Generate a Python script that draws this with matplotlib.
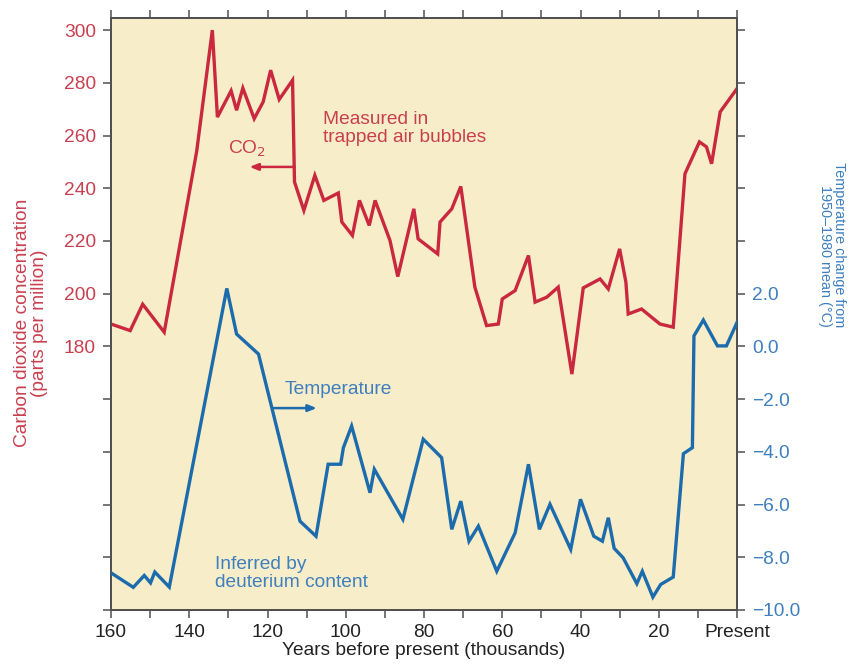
import matplotlib
matplotlib.use("Agg")
import matplotlib.pyplot as plt
from matplotlib.ticker import FixedLocator, FixedFormatter

plt.rcParams['font.family'] = ['Liberation Sans', 'DejaVu Sans']

# CO2 record from trapped air bubbles (age in thousands of years, ppm)
co2_age = [160.0, 155.1, 151.9, 146.4, 138.1, 134.1, 132.8, 129.3, 127.9, 126.3,
           123.4, 121.1, 119.2, 117.0, 113.6, 113.1, 110.7, 107.9, 105.6, 101.9,
           101.0, 98.3, 96.5, 94.0, 92.5, 88.7, 86.7, 82.6, 81.5, 76.5,
           75.9, 72.9, 70.6, 67.0, 64.0, 61.0, 60.0, 56.7, 53.3, 51.6,
           48.6, 45.7, 42.2, 39.3, 35.0, 32.9, 30.0, 28.4, 27.8, 24.4,
           19.7, 16.3, 13.3, 9.6, 7.8, 6.5, 4.3, 0.0]
co2_ppm = [188.5, 186.0, 196.0, 185.4, 254.0, 300.0, 267.0, 277.0, 269.6, 278.0,
           266.4, 272.8, 284.8, 273.7, 281.0, 242.4, 231.6, 244.9, 235.4, 238.2,
           227.2, 222.1, 235.4, 225.9, 235.4, 220.2, 206.5, 232.2, 220.8, 215.1,
           227.2, 232.2, 240.7, 202.5, 187.9, 188.5, 198.0, 201.2, 214.5, 196.8,
           198.7, 202.5, 169.5, 202.2, 205.6, 201.8, 217.0, 204.4, 192.3, 194.2,
           188.5, 187.3, 245.5, 257.6, 255.7, 249.3, 269.0, 277.8]

# Temperature inferred from deuterium content (deg C relative to 1950-1980 mean)
temp_age = [160.0, 154.3, 151.5, 149.9, 148.8, 145.1, 130.4, 127.9, 122.3, 111.7,
            107.6, 104.5, 101.3, 100.6, 98.5, 93.8, 92.7, 85.4, 80.2, 75.5,
            72.9, 70.6, 68.5, 66.1, 61.4, 56.7, 53.3, 50.5, 47.8, 42.5,
            40.0, 36.6, 34.4, 32.9, 31.4, 29.1, 25.6, 24.2, 21.5, 19.5,
            16.3, 13.7, 11.4, 11.0, 8.6, 5.0, 2.7, 0.0]
temp_c = [-8.59, -9.14, -8.69, -8.97, -8.56, -9.13, 2.2, 0.47, -0.29, -6.63,
          -7.2, -4.47, -4.47, -3.84, -3.02, -5.55, -4.66, -6.56, -3.52, -4.22,
          -6.94, -5.87, -7.39, -6.82, -8.53, -7.07, -4.47, -6.94, -5.99, -7.70,
          -5.80, -7.2, -7.39, -6.5, -7.66, -8.02, -9.0, -8.53, -9.51, -9.03,
          -8.75, -4.07, -3.84, 0.40, 1.0, 0.02, 0.02, 0.91]

x_ticks = list(range(160, -1, -10))
x_labels = ["160", "", "140", "", "120", "", "100", "", "80", "", "60", "",
            "40", "", "20", "", "Present"]
co2_ticks = list(range(80, 301, 20))
co2_labels = [str(v) if v >= 180 else "" for v in co2_ticks]
temp_ticks = list(range(-10, 13, 2))
temp_labels = [(f"{v:.1f}".replace("-", "\u2212")) if v <= 2 else "" for v in temp_ticks]

RED = "#c9283f"
RED_TXT = "#c8404f"
BLUE = "#1c6cad"
BLUE_TXT = "#3d7fbf"
SPINE = "#505050"
FS = 13.8

fig = plt.figure(figsize=(8.52, 6.70), dpi=100)
ax = fig.add_axes([111 / 852, 1 - 610 / 670, 626 / 852, 592 / 670])
ax.set_facecolor("#f7edc8")
ax2 = ax.twinx()

ax.plot(co2_age, co2_ppm, color=RED, lw=2.4, solid_joinstyle="miter", zorder=3)
ax2.plot(temp_age, temp_c, color=BLUE, lw=2.4, solid_joinstyle="miter", zorder=3)

ax.set_xlim(160, 0)
ax.set_ylim(80, 304.6)
ax2.set_ylim(-10, 12.46)

ax.xaxis.set_major_locator(FixedLocator(x_ticks))
ax.xaxis.set_major_formatter(FixedFormatter(x_labels))
ax.yaxis.set_major_locator(FixedLocator(co2_ticks))
ax.yaxis.set_major_formatter(FixedFormatter(co2_labels))
ax2.yaxis.set_major_locator(FixedLocator(temp_ticks))
ax2.yaxis.set_major_formatter(FixedFormatter(temp_labels))

ax.tick_params(axis="x", which="both", direction="out", length=6, width=1.1,
               color=SPINE, labelsize=FS, labelcolor="#222222", pad=4,
               top=True, labeltop=False)
ax.tick_params(axis="y", direction="out", length=6, width=1.1, color=SPINE,
               labelsize=FS, labelcolor=RED_TXT, pad=5)
ax2.tick_params(axis="y", direction="out", length=6, width=1.1, color=SPINE,
                labelsize=FS, labelcolor=BLUE_TXT, pad=5)

for a in (ax, ax2):
    for s in a.spines.values():
        s.set_color(SPINE)
        s.set_linewidth(1.3)

ax.set_xlabel("Years before present (thousands)", fontsize=FS,
              color="#222222", labelpad=1)
fig.text(31 / 852, 1 - 323 / 670, "Carbon dioxide concentration\n(parts per million)",
         fontsize=FS, color=RED_TXT, rotation=90, ha="center", va="center",
         linespacing=1.05, multialignment="center")
fig.text(832 / 852, 1 - 327 / 670, "Temperature change from\n1950\u20131980 mean (\u00b0C)",
         fontsize=10.4, color=BLUE_TXT, rotation=270, ha="center", va="bottom",
         linespacing=1.05, multialignment="right")

# Series annotations
ax.text(125.3, 255, "CO$_2$", color=RED_TXT, fontsize=FS, ha="center", va="center")
ax.annotate("", xy=(124.6, 248.1), xytext=(113.1, 248.1),
            arrowprops=dict(arrowstyle="-|>,head_length=0.5,head_width=0.2",
                            color=RED, lw=1.8, shrinkA=0, shrinkB=0))
ax.text(105.8, 262.8, "Measured in\ntrapped air bubbles", color=RED_TXT,
        fontsize=FS, ha="left", va="center", linespacing=1.05)

ax2.text(115.5, -1.65, "Temperature", color=BLUE_TXT, fontsize=FS,
         ha="left", va="center")
ax2.annotate("", xy=(107.4, -2.34), xytext=(118.5, -2.34),
             arrowprops=dict(arrowstyle="-|>,head_length=0.5,head_width=0.2",
                             color=BLUE, lw=1.8, shrinkA=0, shrinkB=0))
ax2.text(133.4, -8.62, "Inferred by\ndeuterium content", color=BLUE_TXT,
         fontsize=FS, ha="left", va="center", linespacing=1.05)

fig.savefig("out.png", dpi=100, facecolor="white")
